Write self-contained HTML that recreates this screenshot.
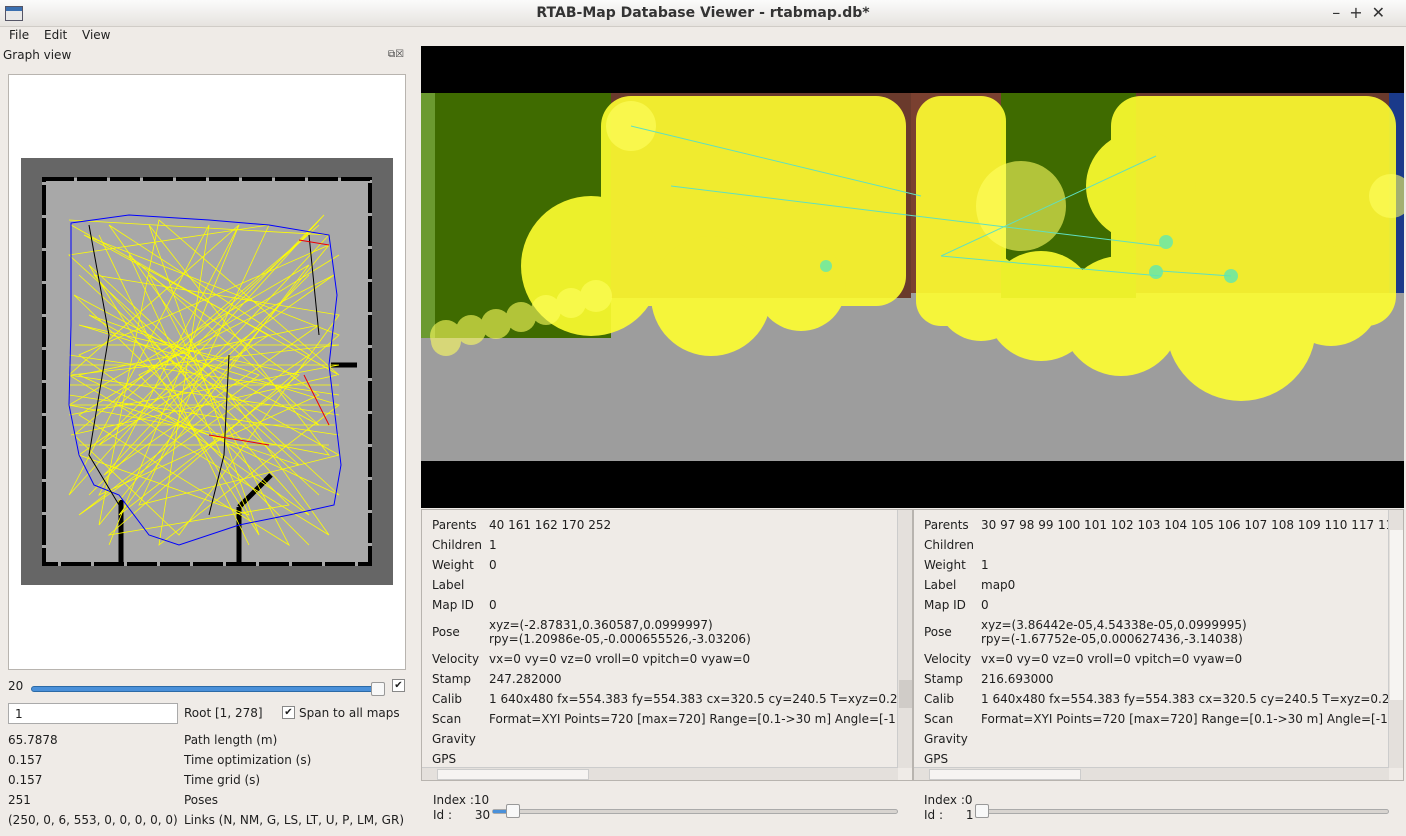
<!DOCTYPE html>
<html><head><meta charset="utf-8">
<style>
*{box-sizing:border-box;margin:0;padding:0}
body{width:1406px;height:836px;background:#efebe7;font-family:"DejaVu Sans","Liberation Sans",sans-serif;font-size:12px;color:#1e1e1e;position:relative;overflow:hidden}
.a{position:absolute;white-space:nowrap}
.row{position:absolute;left:10px;white-space:nowrap}
.row b{font-weight:normal;display:inline-block;width:57px}
</style></head><body>
<div class="a" style="left:0;top:0;width:1406px;height:27px;background:linear-gradient(#fbfbfb,#e6e3df);border-bottom:1px solid #d0ccc7">
 <div class="a" style="left:5px;top:6px;width:18px;height:15px;border:1px solid #556;background:linear-gradient(#3a6fb0 30%,#e8e8e8 30%)"></div>
 <div class="a" style="left:0;width:1406px;text-align:center;top:5px;font-weight:bold;font-size:14px;color:#333">RTAB-Map Database Viewer - rtabmap.db*</div>
 <div class="a" style="right:12px;top:3px;font-size:16px;color:#333;letter-spacing:9px">–+✕</div>
</div>
<div class="a" style="left:0;top:27px;height:18px;width:1406px">
 <span class="a" style="left:9px;top:1px">File</span>
 <span class="a" style="left:44px;top:1px">Edit</span>
 <span class="a" style="left:82px;top:1px">View</span>
</div>
<div class="a" style="left:3px;top:48px">Graph view</div>
<div class="a" style="left:388px;top:49px;width:25px;height:12px;font-size:10px;color:#444">⧉☒</div>
<div class="a" style="left:8px;top:74px;width:398px;height:596px;background:#fff;border:1px solid #b8b4af">
<svg width="398" height="596">
 <rect x="12" y="83" width="372" height="427" fill="#666"/>
 <rect x="33" y="103" width="330" height="388" fill="#a8a8a8"/>
 <path d="M35 104 H361 V489 H35 Z" fill="none" stroke="#000" stroke-width="4" stroke-dasharray="30 3"/>
 <path d="M322 290 H348 M112 425 V488 M230 432 V488 M230 432 L262 400" stroke="#000" stroke-width="5" fill="none"/>
 <g stroke="#ffff00" stroke-width="0.8" fill="none">
  <path d="M60 145 L320 160 L95 400 L310 250 L70 300 L330 420 L80 190 L250 460 L140 150 L320 380 L60 330 L300 190 L110 440 L290 300 L70 250 L330 330 L150 470 L200 150 L60 420 L315 140 L90 370 L260 260 L75 160 L330 260 L100 460 L280 430 L65 220 L310 350 L120 180 L240 440 L70 380 L325 200 L130 300 L300 470"/>
  <path d="M62 150 L330 300 L150 145 L90 450 L320 170 L70 280 L300 440 L85 200 L330 240 L170 460 L65 360 L310 150 L110 330 L290 390 L60 180 L260 150 L130 430 L330 380 L80 240 L250 300 L70 440 L300 280 L100 150 L320 460 L60 300 L230 150 L90 420 L310 320 L140 200 L280 470 L70 340 L330 180"/>
  <path d="M60 290 H330 M60 310 H330 M62 330 H328 M64 350 H326 M66 270 H330 M70 370 H320 M60 300 L330 340 M60 340 L330 290 M60 320 L330 360 M62 360 L328 300 M60 280 L330 320 M62 300 L330 270 M70 200 L310 420 M80 420 L300 200 M90 160 L240 470 M230 150 L100 470"/>
 </g>
 <path d="M62 148 L120 140 L200 145 L260 150 L320 160 L328 220 L320 290 L332 390 L325 430 L280 440 L230 450 L170 470 L140 460 L110 420 L85 410 L70 380 L60 330 L62 250 Z" fill="none" stroke="#00f" stroke-width="1"/>
 <path d="M80 150 L100 260 L80 380 L110 430 M220 280 L215 380 L200 440 M300 160 L310 260" stroke="#000" fill="none" stroke-width="1"/>
 <path d="M290 165 L320 170 M295 300 L320 350 M200 360 L260 370" stroke="#e00" fill="none"/>
</svg>
</div>
<div class="a" style="left:8px;top:679px">20</div>
<div class="a" style="left:31px;top:686px;width:350px;height:6px;background:#4a90d9;border:1px solid #2c6aa6;border-radius:3px"></div>
<div class="a" style="left:371px;top:682px;width:14px;height:14px;background:#f8f8f8;border:1px solid #999;border-radius:2px"></div>
<div class="a" style="left:392px;top:679px;width:13px;height:13px;background:#fff;border:1px solid #888;font-size:10px;line-height:11px;text-align:center">✔</div>
<div class="a" style="left:8px;top:703px;width:170px;height:21px;background:#fff;border:1px solid #aaa;padding:3px 6px">1</div>
<div class="a" style="left:184px;top:706px">Root [1, 278]</div>
<div class="a" style="left:282px;top:706px;width:13px;height:13px;background:#fff;border:1px solid #888;font-size:10px;line-height:11px;text-align:center">✔</div>
<div class="a" style="left:299px;top:706px">Span to all maps</div>
<div class="a" style="left:8px;top:730px;line-height:20px">65.7878<br>0.157<br>0.157<br>251<br>(250, 0, 6, 553, 0, 0, 0, 0, 0)</div>
<div class="a" style="left:184px;top:730px;line-height:20px">Path length (m)<br>Time optimization (s)<br>Time grid (s)<br>Poses<br>Links (N, NM, G, LS, LT, U, P, LM, GR)</div>

<div class="a" style="left:421px;top:46px;width:983px;height:462px;background:#000;overflow:hidden">
<svg width="983" height="462">
 <rect x="0" y="47" width="983" height="368" fill="#9d9d9d"/>
 <rect x="0" y="47" width="190" height="245" fill="#3f6b00"/>
 <rect x="0" y="47" width="14" height="245" fill="#6b9a30"/>
 <rect x="190" y="47" width="300" height="205" fill="#6a3a2c"/>
 <rect x="490" y="47" width="90" height="200" fill="#7a4030"/>
 <rect x="580" y="47" width="135" height="205" fill="#3f6b00"/>
 <rect x="715" y="47" width="255" height="200" fill="#6a3a2c"/>
 <rect x="968" y="47" width="15" height="200" fill="#1a3a8a"/>
 <g fill="#ffff30" opacity="0.9">
  <rect x="180" y="50" width="305" height="210" rx="30"/>
  <rect x="495" y="50" width="90" height="230" rx="25"/>
  <rect x="690" y="50" width="285" height="230" rx="30"/>
  <circle cx="170" cy="220" r="70"/><circle cx="290" cy="250" r="60"/><circle cx="380" cy="240" r="45"/>
  <circle cx="560" cy="250" r="45"/><circle cx="620" cy="260" r="55"/><circle cx="700" cy="270" r="60"/>
  <circle cx="820" cy="280" r="75"/><circle cx="910" cy="250" r="50"/><circle cx="720" cy="140" r="55"/>
 </g>
 <g fill="#ffff60" opacity="0.6">
  <circle cx="25" cy="290" r="16"/><circle cx="50" cy="284" r="15"/><circle cx="75" cy="278" r="15"/><circle cx="100" cy="271" r="15"/><circle cx="125" cy="264" r="15"/><circle cx="150" cy="257" r="15"/><circle cx="175" cy="250" r="16"/>
  <circle cx="25" cy="295" r="15"/><circle cx="210" cy="80" r="25"/><circle cx="970" cy="150" r="22"/><circle cx="600" cy="160" r="45"/>
 </g>
 <g stroke="#5fe0c0" stroke-width="1"><path d="M210 80 L500 150 M250 140 L740 200 M520 210 L740 230 M735 110 L520 210 M740 225 L810 230"/></g>
 <g fill="#60e8b0" opacity="0.8"><circle cx="745" cy="196" r="7"/><circle cx="735" cy="226" r="7"/><circle cx="810" cy="230" r="7"/><circle cx="405" cy="220" r="6"/></g>
</svg>
</div>

<div class="a" style="left:421px;top:509px;width:492px;height:272px;border:1px solid #b8b4af;overflow:hidden">
 <div class="row" style="top:8px"><b>Parents</b>40 161 162 170 252</div>
 <div class="row" style="top:28px"><b>Children</b>1</div>
 <div class="row" style="top:48px"><b>Weight</b>0</div>
 <div class="row" style="top:68px"><b>Label</b></div>
 <div class="row" style="top:88px"><b>Map ID</b>0</div>
 <div class="row" style="top:115px"><b>Pose</b></div>
 <div class="row" style="top:108px;left:67px;line-height:14px">xyz=(-2.87831,0.360587,0.0999997)<br>rpy=(1.20986e-05,-0.000655526,-3.03206)</div>
 <div class="row" style="top:142px"><b>Velocity</b>vx=0 vy=0 vz=0 vroll=0 vpitch=0 vyaw=0</div>
 <div class="row" style="top:162px"><b>Stamp</b>247.282000</div>
 <div class="row" style="top:182px"><b>Calib</b>1 640x480 fx=554.383 fy=554.383 cx=320.5 cy=240.5 T=xyz=0.2</div>
 <div class="row" style="top:202px"><b>Scan</b>Format=XYI Points=720 [max=720] Range=[0.1-&gt;30 m] Angle=[-1.</div>
 <div class="row" style="top:222px"><b>Gravity</b></div>
 <div class="row" style="top:242px"><b>GPS</b></div>
 <div class="a" style="left:475px;top:0;width:15px;height:258px;background:#e4e0dc;border-left:1px solid #ccc"><div class="a" style="top:170px;left:1px;width:13px;height:28px;background:#d0ccc8"></div></div>
 <div class="a" style="left:0;top:257px;width:476px;height:14px;background:#e4e0dc;border-top:1px solid #ccc"><div class="a" style="left:15px;top:1px;width:152px;height:11px;background:#f6f4f2;border:1px solid #ccc"></div></div>
</div>
<div class="a" style="left:913px;top:509px;width:491px;height:272px;border:1px solid #b8b4af;overflow:hidden">
 <div class="row" style="top:8px"><b>Parents</b>30 97 98 99 100 101 102 103 104 105 106 107 108 109 110 117 11</div>
 <div class="row" style="top:28px"><b>Children</b></div>
 <div class="row" style="top:48px"><b>Weight</b>1</div>
 <div class="row" style="top:68px"><b>Label</b>map0</div>
 <div class="row" style="top:88px"><b>Map ID</b>0</div>
 <div class="row" style="top:115px"><b>Pose</b></div>
 <div class="row" style="top:108px;left:67px;line-height:14px">xyz=(3.86442e-05,4.54338e-05,0.0999995)<br>rpy=(-1.67752e-05,0.000627436,-3.14038)</div>
 <div class="row" style="top:142px"><b>Velocity</b>vx=0 vy=0 vz=0 vroll=0 vpitch=0 vyaw=0</div>
 <div class="row" style="top:162px"><b>Stamp</b>216.693000</div>
 <div class="row" style="top:182px"><b>Calib</b>1 640x480 fx=554.383 fy=554.383 cx=320.5 cy=240.5 T=xyz=0.2</div>
 <div class="row" style="top:202px"><b>Scan</b>Format=XYI Points=720 [max=720] Range=[0.1-&gt;30 m] Angle=[-1.</div>
 <div class="row" style="top:222px"><b>Gravity</b></div>
 <div class="row" style="top:242px"><b>GPS</b></div>
 <div class="a" style="left:474px;top:0;width:15px;height:258px;background:#e4e0dc;border-left:1px solid #ccc"><div class="a" style="top:20px;left:1px;width:13px;height:170px;background:#f6f4f2"></div></div>
 <div class="a" style="left:0;top:257px;width:475px;height:14px;background:#e4e0dc;border-top:1px solid #ccc"><div class="a" style="left:15px;top:1px;width:152px;height:11px;background:#f6f4f2;border:1px solid #ccc"></div></div>
</div>
<div class="a" style="left:433px;top:793px;line-height:15px">Index :10<br>Id :&nbsp;&nbsp;&nbsp;&nbsp;&nbsp;&nbsp;30</div>
<div class="a" style="left:492px;top:809px;width:406px;height:5px;background:#d8d4d0;border:1px solid #aaa;border-radius:3px"><div class="a" style="left:0;top:0;width:18px;height:3px;background:#4a90d9"></div></div>
<div class="a" style="left:506px;top:804px;width:14px;height:14px;background:#f8f8f8;border:1px solid #999;border-radius:2px"></div>
<div class="a" style="left:924px;top:793px;line-height:15px">Index :0<br>Id :&nbsp;&nbsp;&nbsp;&nbsp;&nbsp;&nbsp;1</div>
<div class="a" style="left:976px;top:809px;width:413px;height:5px;background:#d8d4d0;border:1px solid #aaa;border-radius:3px"></div>
<div class="a" style="left:975px;top:804px;width:14px;height:14px;background:#f8f8f8;border:1px solid #999;border-radius:2px"></div>
</body></html>
